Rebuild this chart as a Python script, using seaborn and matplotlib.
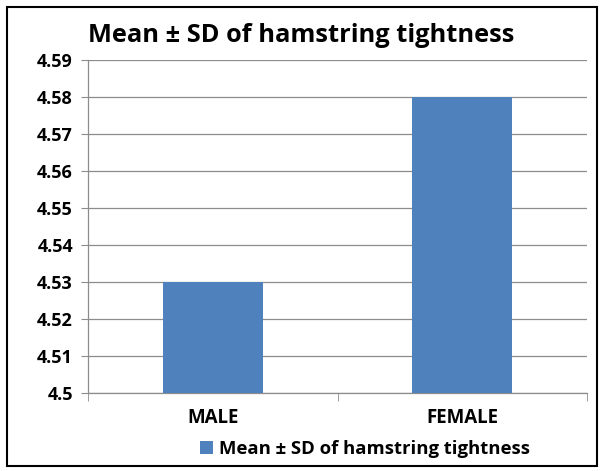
import matplotlib
matplotlib.use("Agg")
import numpy as np
import pandas as pd
import seaborn as sns
import matplotlib.pyplot as plt
from matplotlib.patches import Rectangle, Patch

# data
genders = ["MALE", "FEMALE"]
means = [4.53, 4.58]
series_name = "Mean \u00b1 SD of hamstring tightness"
y_ticks = [4.5, 4.51, 4.52, 4.53, 4.54, 4.55, 4.56, 4.57, 4.58, 4.59]
y_labels = ["4.5", "4.51", "4.52", "4.53", "4.54", "4.55", "4.56", "4.57", "4.58", "4.59"]

df = pd.DataFrame({"gender": genders, "mean": means})

sns.set_style("white")
plt.rcParams["font.family"] = ["Open Sans", "DejaVu Sans"]
plt.rcParams["text.color"] = "black"
plt.rcParams["xtick.color"] = "black"
plt.rcParams["ytick.color"] = "black"

fig = plt.figure(figsize=(6.04, 4.71), dpi=100)
ax = fig.add_axes([0.146, 0.166, 0.826, 0.707])

sns.barplot(data=df, x="gender", y="mean", color="#4F81BD", width=0.4,
            saturation=1, linewidth=0, ax=ax, zorder=3)

ax.set_ylim(4.5, 4.59)
ax.set_xlim(-0.5, 1.5)
ax.set_yticks(y_ticks)
ax.set_yticklabels(y_labels, fontsize=13, fontweight="bold")
ax.set_xticks([0, 1])
ax.set_xticklabels(genders, fontsize=13.5, fontweight="bold")
ax.set_xlabel("")
ax.set_ylabel("")
ax.yaxis.grid(True, color="#8c8c8c", linewidth=0.9, zorder=0)
ax.set_axisbelow(True)

for s in ["top", "right"]:
    ax.spines[s].set_visible(False)
for s in ["left", "bottom"]:
    ax.spines[s].set_color("#8c8c8c")
    ax.spines[s].set_linewidth(0.9)

ax.tick_params(axis="y", length=5, color="#8c8c8c", labelcolor="black", pad=6,
               direction="out", left=True)
ax.tick_params(axis="x", length=0, pad=11, labelcolor="black")
# category boundary ticks on x axis
ax.set_xticks([-0.5, 0.5, 1.5], minor=True)
ax.tick_params(axis="x", which="minor", length=6, color="#8c8c8c", direction="out", bottom=True)

fig.text(0.145, 0.925, series_name, fontsize=18.3, fontweight="bold", ha="left",
         va="center", color="black")

handle = Patch(facecolor="#4F81BD", edgecolor="none")
fig.legend([handle], [series_name], loc="center", bbox_to_anchor=(0.604, 0.047),
           frameon=False, prop={"size": 13.3, "weight": "bold"},
           handlelength=0.7, handleheight=0.7, handletextpad=0.3)

fig.patches.append(Rectangle((0.012, 0.011), 0.976, 0.975, transform=fig.transFigure,
                             fill=False, edgecolor="black", linewidth=1.5))

fig.savefig("out.png", dpi=100)
